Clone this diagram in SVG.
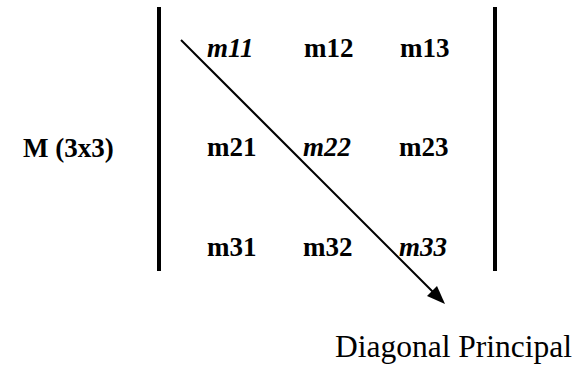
<svg xmlns="http://www.w3.org/2000/svg" width="579" height="369" viewBox="0 0 579 369">
<style>
.cell{font-family:'Liberation Serif',serif;font-weight:bold;font-size:27px;fill:#000}
.diag{font-style:italic}
.lbl{font-family:'Liberation Serif',serif;font-size:31.5px;fill:#000}
.bar{stroke:#000;stroke-width:4;fill:none}
</style>
<rect width="579" height="369" fill="#fff"/>
<g id="label-M"><text class="cell" x="23" y="157">M (3x3)</text></g>
<g id="brackets">
<line class="bar" x1="159" y1="7" x2="159" y2="271"/>
<line class="bar" x1="495" y1="7" x2="495" y2="271"/>
</g>
<g id="connectors">
<path d="M181,40 L440,299" stroke="#000" stroke-width="2" fill="none"/>
<path d="M445,304 L427,296 L437,286 z" fill="#000"/>
</g>
<g id="m11"><text class="cell diag" x="207" y="57">m11</text></g>
<g id="m12"><text class="cell" x="304" y="57">m12</text></g>
<g id="m13"><text class="cell" x="400" y="57">m13</text></g>
<g id="m21"><text class="cell" x="207" y="156">m21</text></g>
<g id="m22"><text class="cell diag" x="303" y="156">m22</text></g>
<g id="m23"><text class="cell" x="399" y="156">m23</text></g>
<g id="m31"><text class="cell" x="207" y="256">m31</text></g>
<g id="m32"><text class="cell" x="303" y="256">m32</text></g>
<g id="m33"><text class="cell diag" x="399" y="256">m33</text></g>
<g id="label-diag"><text class="lbl" x="335" y="357">Diagonal Principal</text></g>
</svg>
